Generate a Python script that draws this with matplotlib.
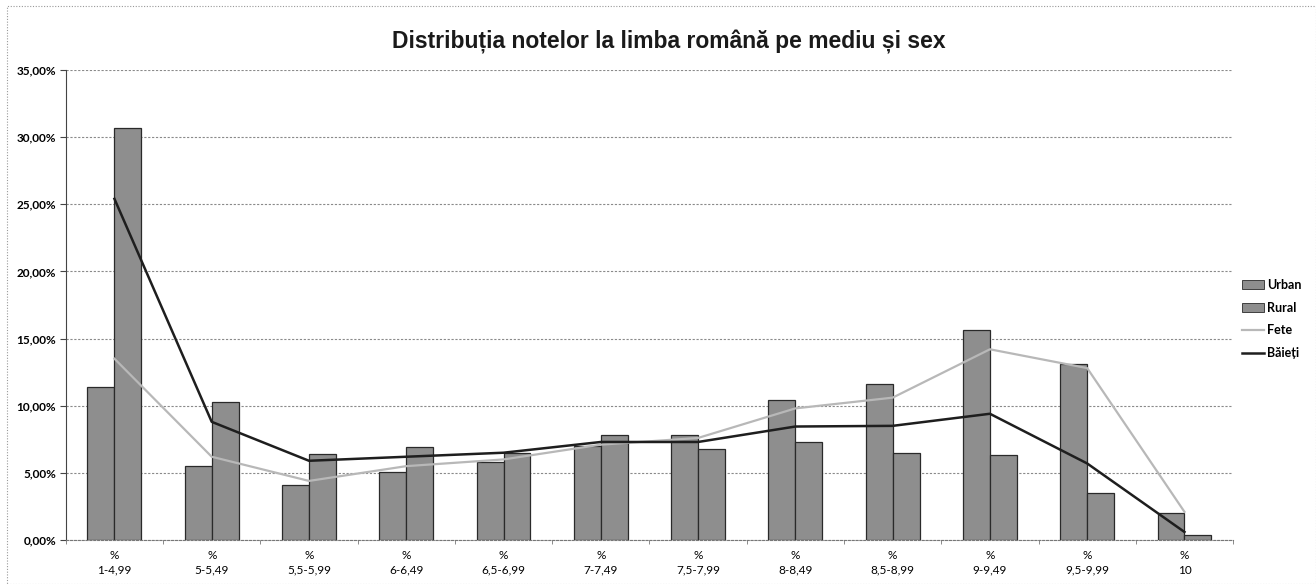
import matplotlib
matplotlib.use("Agg")
import matplotlib.pyplot as plt
from matplotlib.patches import Patch, Rectangle
from matplotlib.lines import Line2D
from matplotlib.ticker import FuncFormatter, FixedLocator
import numpy as np

# grade intervals
categories = ["1-4,99", "5-5,49", "5,5-5,99", "6-6,49", "6,5-6,99", "7-7,49",
              "7,5-7,99", "8-8,49", "8,5-8,99", "9-9,49", "9,5-9,99", "10"]

# shares in %
urban = [11.4, 5.5, 4.1, 5.1, 5.8, 7.0, 7.8, 10.4, 11.6, 15.6, 13.1, 2.0]
rural = [30.7, 10.3, 6.4, 6.9, 6.5, 7.8, 6.8, 7.3, 6.5, 6.3, 3.5, 0.4]
fete = [13.5, 6.2, 4.4, 5.5, 6.0, 7.1, 7.6, 9.8, 10.6, 14.2, 12.8, 2.1]
baieti = [25.4, 8.8, 5.9, 6.2, 6.5, 7.3, 7.3, 8.45, 8.5, 9.4, 5.7, 0.6]

title = "Distribuția notelor la limba română pe mediu și sex"

fig = plt.figure(figsize=(13.16, 5.84), dpi=100)
ax = fig.add_axes([0.050, 0.0753, 0.887, 0.805])

x = np.arange(len(categories))
w = 0.277
bar_kw = dict(color="#8e8e8e", edgecolor="#2a2a2a", linewidth=0.9, zorder=2)
ax.bar(x - w, urban, w, align="edge", **bar_kw)
ax.bar(x, rural, w, align="edge", **bar_kw)

ax.plot(x, fete, color="#b8b8b8", lw=1.6, zorder=3)
ax.plot(x, baieti, color="#1e1e1e", lw=1.8, zorder=3)

ax.set_xlim(-0.5, len(categories) - 0.5)
ax.set_ylim(0, 35)
ax.set_yticks(np.arange(0, 36, 5))
ax.yaxis.set_major_formatter(FuncFormatter(lambda v, p: f"{v:.2f}%".replace(".", ",")))
ax.set_xticks(x)
ax.set_xticklabels(["%\n" + c for c in categories], fontsize=8.5, family="Lato",
                   linespacing=1.45)
ax.xaxis.set_minor_locator(FixedLocator(np.arange(-0.5, len(categories), 1)))
ax.tick_params(axis="x", which="major", length=0, pad=7)
ax.tick_params(axis="x", which="minor", length=3, color="#777")
ax.tick_params(axis="y", labelsize=8.5, length=4, color="#444", pad=3)
for lbl in ax.get_yticklabels():
    lbl.set_family("Lato")
    lbl.set_fontweight("bold")

ax.grid(axis="y", color="#8a8a8a", linestyle=(0, (2, 1.5)), linewidth=0.8, zorder=0)
ax.set_axisbelow(True)
for s in ["top", "right"]:
    ax.spines[s].set_visible(False)
ax.spines["left"].set_color("#444")
ax.spines["left"].set_linestyle((0, (3, 1)))
ax.spines["bottom"].set_color("#777")
ax.spines["bottom"].set_linestyle((0, (2, 1.5)))

fig.text(0.508, 0.928, title, ha="center", va="center", fontsize=16.5,
         fontweight="bold", family="Liberation Sans", color="#1a1a1a")

handles = [Patch(facecolor="#8e8e8e", edgecolor="#2a2a2a", lw=0.6),
           Patch(facecolor="#8e8e8e", edgecolor="#2a2a2a", lw=0.6),
           Line2D([], [], color="#b8b8b8", lw=1.6),
           Line2D([], [], color="#1e1e1e", lw=1.8)]
leg = ax.legend(handles, ["Urban", "Rural", "Fete", "Băieți"], loc="center left",
                bbox_to_anchor=(1.0, 0.47), frameon=False,
                prop={"family": "Lato", "weight": "bold", "size": 9},
                handlelength=1.8, handletextpad=0.25, labelspacing=0.85,
                borderpad=0.2)

# dotted outer frame of the chart object
fig.patches.append(Rectangle((0.005, 0.0), 0.995, 0.99, transform=fig.transFigure,
                             fill=False, edgecolor="#999", lw=0.8,
                             linestyle=(0, (1, 1.5))))

fig.savefig("out.png", dpi=100)
